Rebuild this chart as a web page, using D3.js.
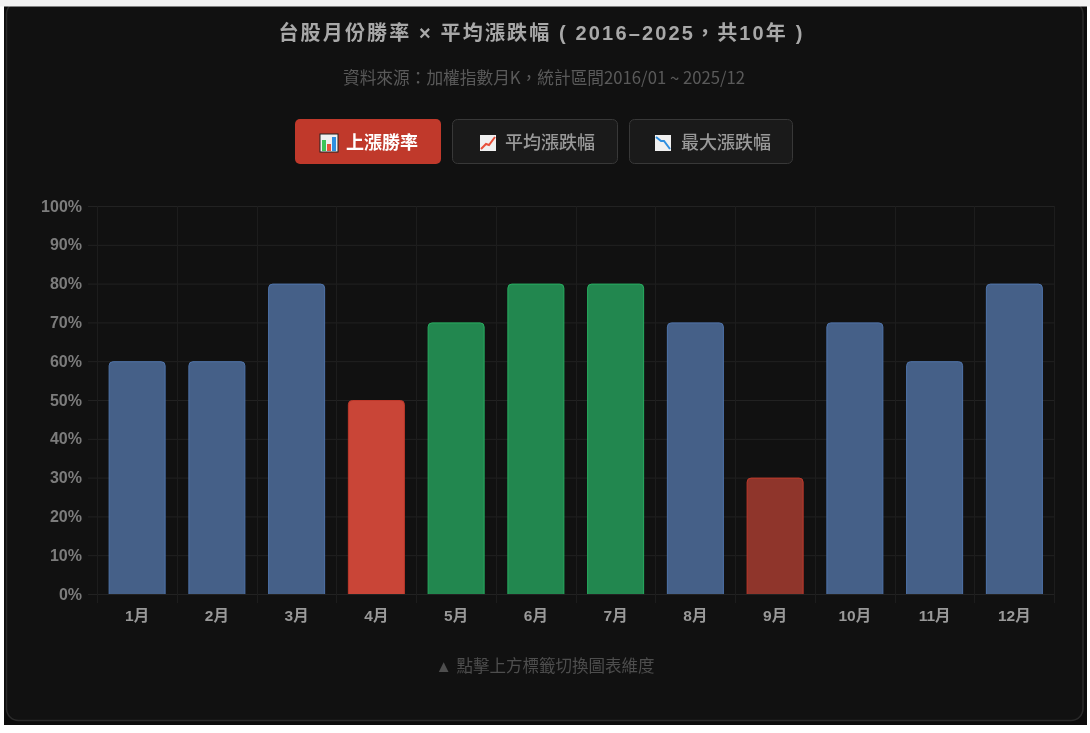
<!DOCTYPE html>
<html lang="zh-TW"><head><meta charset="utf-8">
<script src="https://cdn.jsdelivr.net/npm/d3@7"></script>
<style>
html,body{margin:0;padding:0;background:#ffffff;width:1090px;height:733px;overflow:hidden}
svg{display:block;filter:blur(.5px)}
text{font-family:"Noto Sans CJK TC","Liberation Sans",sans-serif}
</style></head><body><div id="c"></div>
<script>
const months=["1月","2月","3月","4月","5月","6月","7月","8月","9月","10月","11月","12月"];
const winRate=[60,60,80,50,70,80,80,70,30,70,60,80];
const barKinds=["blue","blue","blue","red","green","green","green","blue","darkred","blue","blue","blue"];
const yTicks=[0,10,20,30,40,50,60,70,80,90,100];
const title="台股月份勝率 × 平均漲跌幅 ( 2016–2025，共10年 )";
const subtitle="資料來源：加權指數月K，統計區間2016/01 ~ 2025/12";
const hint="▲ 點擊上方標籤切換圖表維度";
const tabs=["上漲勝率","平均漲跌幅","最大漲跌幅"];
const fills={blue:"#456088",red:"#c94537",green:"#22874f",darkred:"#8f352b"};
const strokes={blue:"#4f74ab",red:"#c0392b",green:"#27ae60",darkred:"#c0392b"};
const W=1090,H=733;
const svg=d3.select("#c").append("svg").attr("width",W).attr("height",H);
svg.append("rect").attr("x",4).attr("y",6).attr("width",1083).attr("height",719).attr("fill","#0c0c0c");
svg.append("rect").attr("x",6.5).attr("y",2).attr("width",1076.5).attr("height",718.5).attr("rx",12)
  .attr("fill","#111111").attr("stroke","#2a2a2a").attr("stroke-width",1.5);
svg.append("rect").attr("x",0).attr("y",0).attr("width",W).attr("height",6.5).attr("fill","#f2f2f2");
const x=d3.scaleBand().domain(months).range([97.25,1054.25]).paddingInner(0.285).paddingOuter(0.1425);
const y=d3.scaleLinear().domain([0,100]).range([594,206]);
const grid=svg.append("g");
grid.selectAll(".h").data(yTicks).join("line").attr("x1",88).attr("x2",1054)
  .attr("y1",d=>y(d)+.5).attr("y2",d=>y(d)+.5).attr("stroke","#222222");
const step=x.step();
const vLines=d3.range(months.length+1);
grid.selectAll(".v").data(vLines).join("line")
  .attr("x1",i=>Math.round(97+i*step)+.5).attr("x2",i=>Math.round(97+i*step)+.5)
  .attr("y1",206).attr("y2",603).attr("stroke","#1d1d1d");
const ya=svg.append("g").attr("transform","translate(88,0)").call(d3.axisLeft(y).tickValues(yTicks).tickSize(0).tickPadding(6).tickFormat(d=>d+"%"));
ya.select(".domain").remove();
ya.selectAll("text").attr("fill","#7c7c7c").attr("font-size",16).attr("font-weight",700).style("font-family",'"Liberation Sans",sans-serif');
const xa=svg.append("g").attr("transform","translate(0,594)").call(d3.axisBottom(x).tickSize(0).tickPadding(16));
xa.select(".domain").remove();
xa.selectAll("text").attr("fill","#999999").attr("font-size",15.5).attr("font-weight",700).style("font-family",'"Liberation Sans","Noto Sans CJK TC",sans-serif');
function barPath(d,i){
  const m=months[i],l=x(m)+.5,r=x(m)+x.bandwidth()-.5,t=y(d)+.5,b=y(0),R=4;
  const p=d3.path();p.moveTo(l,b);p.lineTo(l,t+R);p.arcTo(l,t,l+R,t,R);p.lineTo(r-R,t);p.arcTo(r,t,r,t+R,R);p.lineTo(r,b);
  return p.toString();
}
svg.append("g").selectAll("path").data(winRate).join("path").attr("d",barPath)
  .attr("fill",(d,i)=>fills[barKinds[i]]).attr("stroke",(d,i)=>strokes[barKinds[i]]).attr("stroke-width",1);
svg.append("text").attr("x",541.5).attr("y",40).attr("text-anchor","middle").attr("fill","#a8a8a8").attr("font-size",20).attr("font-weight",600).attr("letter-spacing",2.15).style("font-family",'"Liberation Sans","Noto Sans CJK TC",sans-serif').text(title);
svg.append("text").attr("x",544).attr("y",83.5).attr("text-anchor","middle").attr("fill","#5a5a5a").attr("font-size",16.7).text(subtitle);
svg.append("text").attr("x",545).attr("y",671.5).attr("text-anchor","middle").attr("fill","#4e4e4e").attr("font-size",16.5).style("font-family",'"Liberation Sans","Noto Sans CJK TC",sans-serif').text(hint);
const tabBox=[[295,119,146,45],[452.5,119.5,165,44],[629.5,119.5,163,44]];
const tabG=svg.append("g").selectAll("g").data(tabs).join("g");
tabG.append("rect").attr("x",(d,i)=>tabBox[i][0]).attr("y",(d,i)=>tabBox[i][1]).attr("width",(d,i)=>tabBox[i][2]).attr("height",(d,i)=>tabBox[i][3]).attr("rx",5)
  .attr("fill",(d,i)=>i==0?"#c0392b":"#1a1a1a").attr("stroke",(d,i)=>i==0?"none":"#383838");
const txtX=[346,505,681];
tabG.append("text").attr("x",(d,i)=>txtX[i]).attr("y",149).attr("fill",(d,i)=>i==0?"#ffffff":"#999999").attr("font-size",18).attr("font-weight",(d,i)=>i==0?700:500).text(d=>d);
const ic=svg.append("g");
const ix=[320,480,655];
ix.forEach((a,i)=>{
  const g=ic.append("g").attr("transform",`translate(${a},${i==0?134:135})`);
  g.append("rect").attr("width",i==0?18:16).attr("height",i==0?18:16).attr("fill","#f0f0f0").attr("stroke",i==0?"#222":"none");
  if(i==0){
    g.append("rect").attr("x",2).attr("y",6).attr("width",4).attr("height",11).attr("fill","#3cc45a");
    g.append("rect").attr("x",7).attr("y",10).attr("width",4).attr("height",7).attr("fill","#e8503a");
    g.append("rect").attr("x",12).attr("y",3).attr("width",4).attr("height",14).attr("fill","#2f8fe0");
  }else{
    g.append("path").attr("d",i==1?"M1,14 L6,9 L9,10 L15,2":"M1,2 L6,6 L9,6 L15,14").attr("fill","none")
     .attr("stroke",i==1?"#e8503a":"#2f8fe0").attr("stroke-width",2);
  }
});
</script></body></html>
